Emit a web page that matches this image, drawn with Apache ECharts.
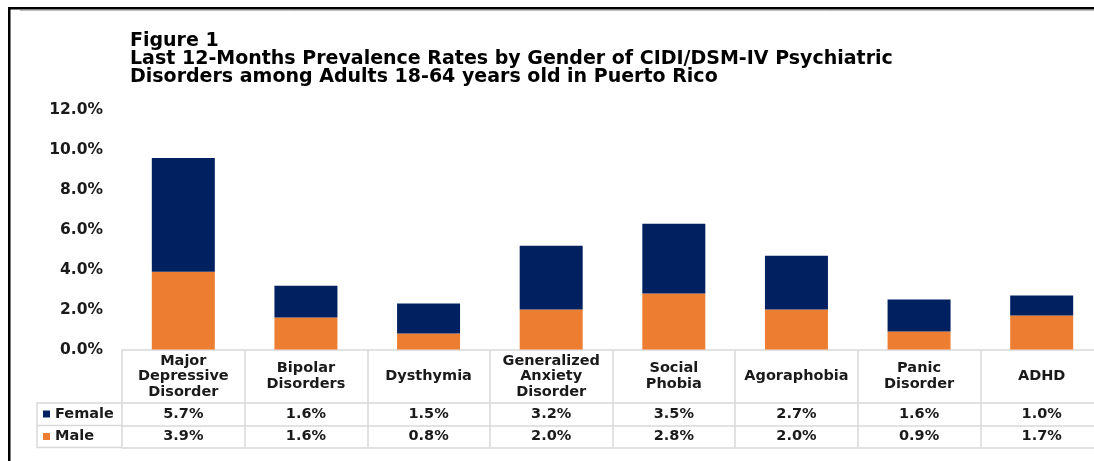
<!DOCTYPE html>
<html>
<head>
<meta charset="utf-8">
<script src="https://cdn.jsdelivr.net/npm/echarts@6/dist/echarts.min.js"></script>
<style>
  html, body { margin: 0; padding: 0; background: #ffffff; }
  #chart { width: 1094px; height: 461px; }
</style>
</head>
<body>
<div id="chart"></div>
<script>
// Disorder categories (header row of the data table)
const categories = [
  'Major\nDepressive\nDisorder',
  'Bipolar\nDisorders',
  'Dysthymia',
  'Generalized\nAnxiety\nDisorder',
  'Social\nPhobia',
  'Agoraphobia',
  'Panic\nDisorder',
  'ADHD'
];
// 12-month prevalence (%) by gender
const female = [5.7, 1.6, 1.5, 3.2, 3.5, 2.7, 1.6, 1.0];
const male   = [3.9, 1.6, 0.8, 2.0, 2.8, 2.0, 0.9, 1.7];
// Y-axis range (%)
const yMin = 0, yMax = 12, yStep = 2;

const titleLines = [
  'Figure 1',
  'Last 12-Months Prevalence Rates by Gender of CIDI/DSM-IV Psychiatric',
  'Disorders among Adults 18-64 years old in Puerto Rico'
];

const FONT = 'DejaVu Sans';
const INK = '#1a1a1a';
const RULE = '#d9d9d9';
const NAVY = '#002060';
const ORANGE = '#ED7D31';

const pct = v => v.toFixed(1) + '%';

// Table layout (pixels below the plot's zero line)
const headerH = 53.5, rowH1 = 22.5, rowH2 = 22;
const gridLeft = 122, gridTop = 110, gridH = 239.5;
const zeroY = gridTop + gridH;

const chart = echarts.init(document.getElementById('chart'), null, { renderer: 'canvas' });

const textBase = { fontFamily: FONT, fontWeight: 'bold', color: INK };

chart.setOption({
  animation: false,
  backgroundColor: '#ffffff',
  title: {
    text: titleLines.join('\n'),
    left: 130,
    top: 31.5,
    padding: 0,
    textStyle: { ...textBase, color: '#000', fontSize: 19, lineHeight: 18.2 }
  },
  legend: [
    {
      data: ['Female'], left: 43, top: zeroY + headerH + 3, padding: 0,
      icon: 'rect', itemWidth: 7, itemHeight: 7, itemGap: 0,
      textStyle: { ...textBase, fontSize: 14.5, lineHeight: 16 }
    },
    {
      data: ['Male'], left: 43, top: zeroY + headerH + rowH1 + 3, padding: 0,
      icon: 'rect', itemWidth: 7, itemHeight: 7, itemGap: 0,
      textStyle: { ...textBase, fontSize: 14.5, lineHeight: 16 }
    }
  ],
  grid: {
    left: gridLeft, top: gridTop, width: 981, height: gridH,
    containLabel: false, outerBoundsMode: 'none'
  },
  xAxis: [
    {
      type: 'category', data: categories, position: 'bottom',
      axisLine: { lineStyle: { color: RULE, width: 1.5 } },
      axisTick: { show: true, interval: 0, length: headerH + rowH1 + rowH2, lineStyle: { color: RULE, width: 1.5 } },
      axisLabel: { interval: 0, margin: headerH / 2, verticalAlign: 'middle', align: 'center',
                   ...textBase, fontSize: 14.5, lineHeight: 15.5 }
    },
    {
      type: 'category', data: female.map(pct), position: 'bottom', offset: headerH,
      axisLine: { lineStyle: { color: RULE, width: 1.5 } },
      axisTick: { show: false },
      axisLabel: { interval: 0, margin: rowH1 / 2, verticalAlign: 'middle', ...textBase, fontSize: 14.5 }
    },
    {
      type: 'category', data: male.map(pct), position: 'bottom', offset: headerH + rowH1,
      axisLine: { lineStyle: { color: RULE, width: 1.5 } },
      axisTick: { show: false },
      axisLabel: { interval: 0, margin: rowH2 / 2, verticalAlign: 'middle', ...textBase, fontSize: 14.5 }
    },
    {
      type: 'category', data: categories, position: 'bottom', offset: headerH + rowH1 + rowH2,
      axisLine: { lineStyle: { color: RULE, width: 1.5 } },
      axisTick: { show: false },
      axisLabel: { show: false }
    }
  ],
  yAxis: {
    type: 'value', min: yMin, max: yMax, interval: yStep,
    axisLine: { show: false }, axisTick: { show: false },
    splitLine: { show: false },
    axisLabel: { margin: 19, formatter: v => pct(v), ...textBase, fontSize: 15.5 }
  },
  series: [
    {
      name: 'Male', type: 'bar', stack: 'total', data: male, barWidth: 63,
      itemStyle: { color: ORANGE }
    },
    {
      name: 'Female', type: 'bar', stack: 'total', data: female, barWidth: 63,
      itemStyle: { color: NAVY }
    }
  ],
  graphic: [
    // outer chart frame (left and top edges fall inside the view)
    { type: 'line', silent: true, shape: { x1: 20, y1: 10.5, x2: 1094, y2: 10.5 },
      style: { stroke: '#bdbdbd', lineWidth: 1 } },
    { type: 'polyline', silent: true, shape: { points: [[9.25, 470], [9.25, 8.25], [1100, 8.25]] },
      style: { fill: 'none', stroke: '#000', lineWidth: 2.5 } },
    // legend column of the data table
    { type: 'polyline', silent: true,
      shape: { points: [[gridLeft, zeroY + headerH], [37, zeroY + headerH], [37, zeroY + headerH + rowH1 + rowH2], [gridLeft, zeroY + headerH + rowH1 + rowH2]] },
      style: { fill: 'none', stroke: RULE, lineWidth: 1.5 } },
    { type: 'line', silent: true,
      shape: { x1: 37, y1: zeroY + headerH + rowH1, x2: gridLeft, y2: zeroY + headerH + rowH1 },
      style: { stroke: RULE, lineWidth: 1.5 } }
  ]
});
</script>
</body>
</html>
